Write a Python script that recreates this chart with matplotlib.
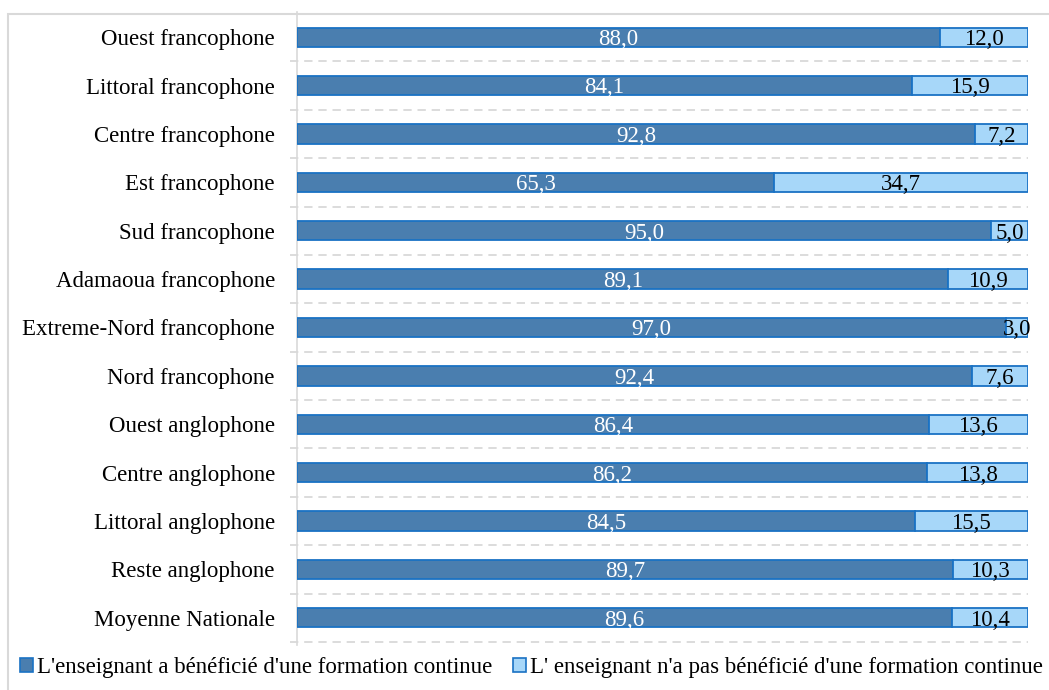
import matplotlib
matplotlib.use("Agg")
import matplotlib.pyplot as plt
from matplotlib.patches import Rectangle

categories = [
    "Ouest francophone", "Littoral francophone", "Centre francophone",
    "Est francophone", "Sud francophone", "Adamaoua francophone",
    "Extreme-Nord francophone", "Nord francophone", "Ouest anglophone",
    "Centre anglophone", "Littoral anglophone", "Reste anglophone",
    "Moyenne Nationale",
]
formes = [88.0, 84.1, 92.8, 65.3, 95.0, 89.1, 97.0, 92.4, 86.4, 86.2, 84.5, 89.7, 89.6]
non_formes = [12.0, 15.9, 7.2, 34.7, 5.0, 10.9, 3.0, 7.6, 13.6, 13.8, 15.5, 10.3, 10.4]
series_names = [
    "L'enseignant a bénéficié d'une formation continue",
    "L' enseignant n'a pas bénéficié d'une formation continue",
]

dark = "#4a7eaf"
light = "#a7d7f9"
edge = "#1a72c4"
font = "Liberation Serif"
fs = 16.5

W, H = 1049, 690
fig = plt.figure(figsize=(W / 100, H / 100), dpi=100)
ax = fig.add_axes([297 / W, 1 - 642 / H, (1028 - 297) / W, (642 - 13) / H])

n = len(categories)
y = list(range(n))
bh = 0.4
ax.barh(y, formes, height=bh, color=dark, edgecolor=edge, linewidth=1.3, zorder=3)
ax.barh(y, non_formes, left=formes, height=bh, color=light, edgecolor=edge,
        linewidth=1.3, zorder=3)

def fmt(v):
    return f"{v:.1f}".replace(".", ",")

for i in range(n):
    ax.text(formes[i] / 2, i + 0.05, fmt(formes[i]), ha="center", va="center",
            color="white", fontsize=fs, family=font, zorder=4)
    ax.text(formes[i] + non_formes[i] / 2, i + 0.05, fmt(non_formes[i]),
            ha="center", va="center", color="black", fontsize=fs, family=font, zorder=4)

ax.set_xlim(0, 100)
ax.set_ylim(n - 0.5, -0.5)
ax.set_yticks(y)
ax.set_yticklabels(categories, family=font, fontsize=fs)
ax.tick_params(axis="y", length=0, pad=16)
ax.set_xticks([])

# dashed separators between categories
for b in [k + 0.5 for k in range(n)]:
    ax.plot([-0.01, 1.0], [b, b], transform=ax.get_yaxis_transform(),
            color="#d6d6d6", linestyle=(0, (5, 3.5)), linewidth=1.2, clip_on=False, zorder=1)

for s in ["top", "right", "bottom"]:
    ax.spines[s].set_visible(False)
ax.spines["left"].set_color("#d9d9d9")
ax.spines["left"].set_linewidth(1.2)
ax.spines["left"].set_bounds(n - 0.5 + 0.07, -0.5 - 0.02)

# outer frame of the chart area
fig.patches.append(Rectangle((8 / W, -0.05), 1.1, 1 - 14 / H + 0.05,
                             transform=fig.transFigure, fill=False,
                             edgecolor="#d9d9d9", linewidth=1.5))

handles = [Rectangle((0, 0), 1, 1, facecolor=dark, edgecolor=edge, linewidth=1.2),
           Rectangle((0, 0), 1, 1, facecolor=light, edgecolor=edge, linewidth=1.2)]
fig.legend(handles, series_names, loc="center left", bbox_to_anchor=(20 / W, 1 - 668 / H),
           ncol=2, frameon=False, prop={"family": font, "size": fs},
           handlelength=0.55, handleheight=0.55, handletextpad=0.2, columnspacing=0.9,
           borderaxespad=0, borderpad=0)

fig.savefig("out.png", dpi=100)
